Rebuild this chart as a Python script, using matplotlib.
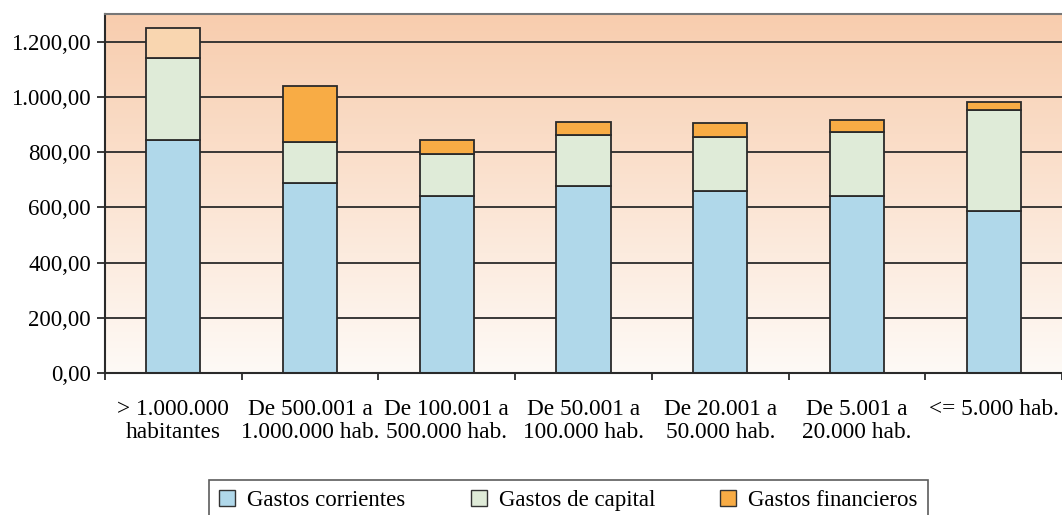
import matplotlib
matplotlib.use("Agg")
import matplotlib.pyplot as plt
import numpy as np
from matplotlib.colors import LinearSegmentedColormap
from matplotlib.patches import Patch

categories = ["> 1.000.000\nhabitantes", "De 500.001 a\n1.000.000 hab.", "De 100.001 a\n500.000 hab.",
              "De 50.001 a\n100.000 hab.", "De 20.001 a\n50.000 hab.", "De 5.001 a\n20.000 hab.",
              "<= 5.000 hab."]
corrientes = [843, 687, 640, 676, 658, 640, 586]
capital = [296, 149, 152, 185, 196, 232, 365]
financieros = [112, 202, 51, 47, 50, 43, 30]
yticks = [0, 200, 400, 600, 800, 1000, 1200]
ytick_labels = ["0,00", "200,00", "400,00", "600,00", "800,00", "1.000,00", "1.200,00"]

plt.rcParams['font.family'] = ['Liberation Serif', 'DejaVu Serif']
fig = plt.figure(figsize=(10.62, 5.15), dpi=100)
ax = fig.add_axes([105/1062, 1-373/515, (1062-105)/1062, (373-14)/515])

# gradient background
cmap = LinearSegmentedColormap.from_list("bg", ["#FEFAF6", "#F8CDAE"])
grad = np.linspace(0, 1, 256).reshape(-1, 1)
ax.imshow(grad, extent=[0, 1, 0, 1], transform=ax.transAxes, origin="lower",
          cmap=cmap, aspect="auto", zorder=0)

x = np.arange(len(categories))
ax.set_xlim(-0.5, len(categories) - 0.5)
ax.set_ylim(0, 1300)
for y in yticks[1:]:
    ax.axhline(y, color="#2a2a2a", lw=1.3, zorder=1)

w = 0.395
ec = "#2a2a2a"
corr = np.array(corrientes)
cap = np.array(capital)
fin = np.array(financieros)
ax.bar(x, corr, w, color="#B0D8EA", edgecolor=ec, lw=1.3, zorder=2)
ax.bar(x, cap, w, bottom=corr, color="#DFEBD8", edgecolor=ec, lw=1.3, zorder=2)
fin_colors = ["#F9D6B0"] + ["#F8AC45"] * (len(categories) - 1)
ax.bar(x, fin, w, bottom=corr + cap, color=fin_colors, edgecolor=ec, lw=1.3, zorder=2)

ax.set_yticks(yticks)
ax.set_yticklabels(ytick_labels, fontsize=16.5)
ax.set_xticks(x)
ax.set_xticklabels(categories, fontsize=16.8, linespacing=1.1)
ax.tick_params(axis="x", length=0, pad=19)
ax.set_xticks(np.arange(-0.5, len(categories), 1), minor=True)
ax.tick_params(axis="x", which="minor", length=5, width=1.3, color="#2a2a2a")
ax.tick_params(axis="y", length=6, width=1.3, color="#2a2a2a", pad=4)

for s in ["left", "bottom"]:
    ax.spines[s].set_color("#2a2a2a")
    ax.spines[s].set_linewidth(1.5)
ax.spines["top"].set_color("#777777")
ax.spines["top"].set_linewidth(1.5)
ax.spines["right"].set_visible(False)

handles = [Patch(facecolor="#B0D8EA", edgecolor="#333333", label="Gastos corrientes"),
           Patch(facecolor="#DFEBD8", edgecolor="#333333", label="Gastos de capital"),
           Patch(facecolor="#F8AC45", edgecolor="#333333", label="Gastos financieros")]
leg = fig.legend(handles=handles, ncol=3, loc="lower center", bbox_to_anchor=(568.5/1062, -0.035),
                 fontsize=16.5, frameon=True, fancybox=False, edgecolor="#333333",
                 handlelength=0.7, handleheight=0.7, handletextpad=0.52, columnspacing=2.84,
                 borderpad=0.45)
leg.get_frame().set_linewidth(1.2)

fig.savefig("out.png", dpi=100)
